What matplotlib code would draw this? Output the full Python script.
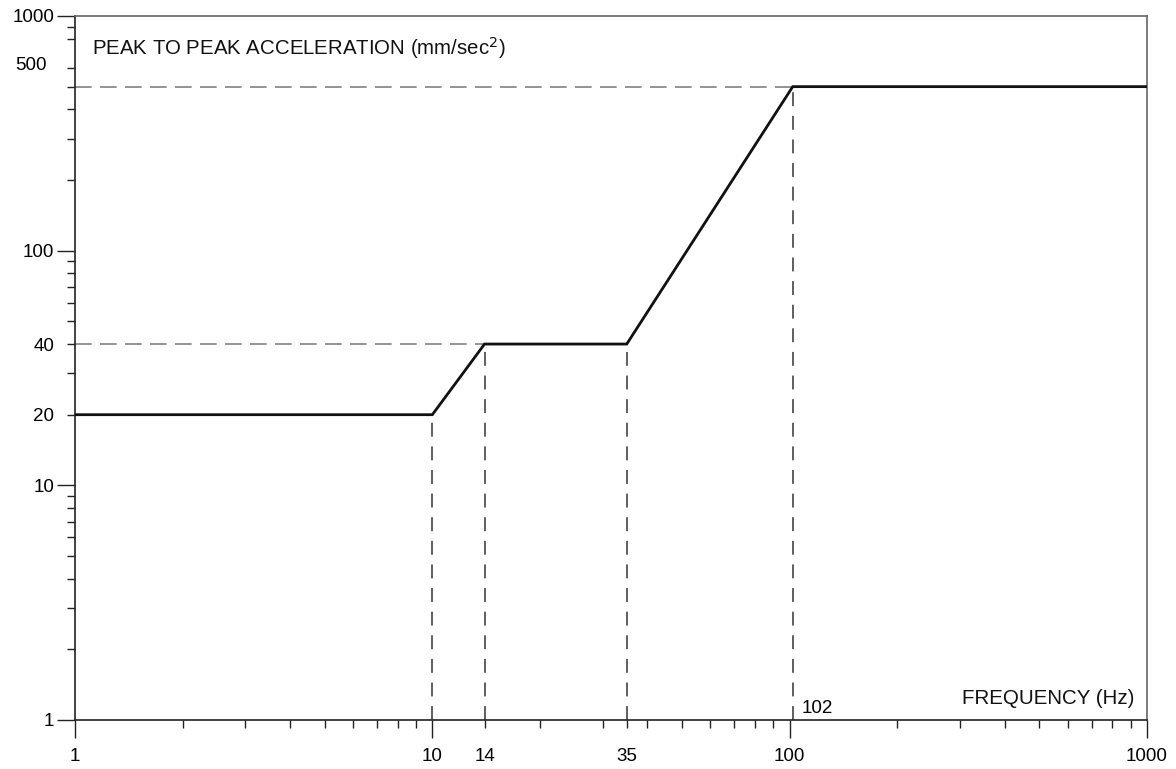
import matplotlib
matplotlib.use('Agg')
import matplotlib.pyplot as plt
import matplotlib.ticker as ticker

plt.rcParams['font.family'] = ['Liberation Sans', 'DejaVu Sans']
plt.rcParams['lines.scale_dashes'] = False

# ── Data ──────────────────────────────────────────────────────────────────────
freq  = [1, 10, 14, 35, 102, 1000]      # Hz
accel = [20, 20, 40, 40, 500, 500]      # mm/sec^2 peak to peak

# break points that get dashed guide lines
h_guides = [(40, 14), (500, 102)]       # (level, x end)
v_guides = [(10, 20), (14, 40), (35, 40), (102, 500)]  # (x, y top)

x_major = [1, 10, 100, 1000]
x_extra = [14, 35]
x_minor = [2, 3, 4, 5, 6, 7, 8, 9, 20, 30, 40, 50, 60, 70, 80, 90,
           200, 300, 400, 500, 600, 700, 800, 900]
y_major = [1, 10, 100, 1000]
y_extra = [20, 40]
y_minor = [2, 3, 4, 5, 6, 7, 8, 9, 30, 50, 60, 70, 80, 90,
           200, 300, 400, 500, 600, 800, 900]

# ── Plot ──────────────────────────────────────────────────────────────────────
fig = plt.figure(figsize=(11.76, 7.69), dpi=100)
ax = fig.add_axes([75 / 1176, 49 / 769, (1147 - 75) / 1176, (720 - 16) / 769])
ax.set_xscale('log')
ax.set_yscale('log')
ax.set_xlim(1, 1000)
ax.set_ylim(1, 1000)

for lvl, xend in h_guides:
    ax.plot([1, xend], [lvl, lvl], color='#8a8a8a', lw=1.3, dashes=(12, 6), zorder=2)
for xv, ytop in v_guides:
    ax.plot([xv, xv], [1, ytop], color='#333333', lw=1.1, dashes=(10, 7), zorder=2)

ax.plot(freq, accel, color='#111111', lw=2.0, zorder=3, solid_joinstyle='miter')

# ticks
ax.xaxis.set_major_locator(ticker.FixedLocator(x_major))
ax.xaxis.set_major_formatter(ticker.FixedFormatter([str(v) for v in x_major]))
ax.xaxis.set_minor_locator(ticker.FixedLocator(x_minor + x_extra))
ax.xaxis.set_minor_formatter(ticker.FuncFormatter(lambda v, p: str(int(round(v))) if int(round(v)) in x_extra else ''))
ax.yaxis.set_major_locator(ticker.FixedLocator(y_major))
ax.yaxis.set_major_formatter(ticker.FixedFormatter([str(v) for v in y_major]))
ax.yaxis.set_minor_locator(ticker.FixedLocator(y_minor + y_extra))
ax.yaxis.set_minor_formatter(ticker.FuncFormatter(lambda v, p: str(int(round(v))) if int(round(v)) in y_extra else ''))

ax.tick_params(which='major', length=13, width=1.0, labelsize=13.5, color='#222222')
ax.tick_params(which='minor', length=6, width=1.0, labelsize=13.5, color='#222222')
ax.tick_params(axis='x', which='major', pad=7)
ax.tick_params(axis='x', which='minor', pad=14)
ax.tick_params(axis='y', which='major', pad=2)
ax.tick_params(axis='y', which='minor', pad=9)

for side in ['left', 'bottom']:
    ax.spines[side].set_color('#222222')
    ax.spines[side].set_linewidth(1.2)
for side in ['top', 'right']:
    ax.spines[side].set_color('#666666')
    ax.spines[side].set_linewidth(1.2)

# "500" label sits above its tick on the original chart
ax.text(-0.026, 0.930, '500', transform=ax.transAxes, ha='right', va='center', fontsize=13.5)

ax.text(0.016, 0.955, 'PEAK TO PEAK ACCELERATION (mm/sec$^2$)', transform=ax.transAxes,
        ha='left', va='center', fontsize=14.7, color='#111111')
ax.text(0.9885, 0.03, 'FREQUENCY (Hz)', transform=ax.transAxes,
        ha='right', va='center', fontsize=14.8, color='#111111')
ax.text(108, 1.114, '102', ha='left', va='center', fontsize=13.5)

fig.savefig('out.png', dpi=100)
